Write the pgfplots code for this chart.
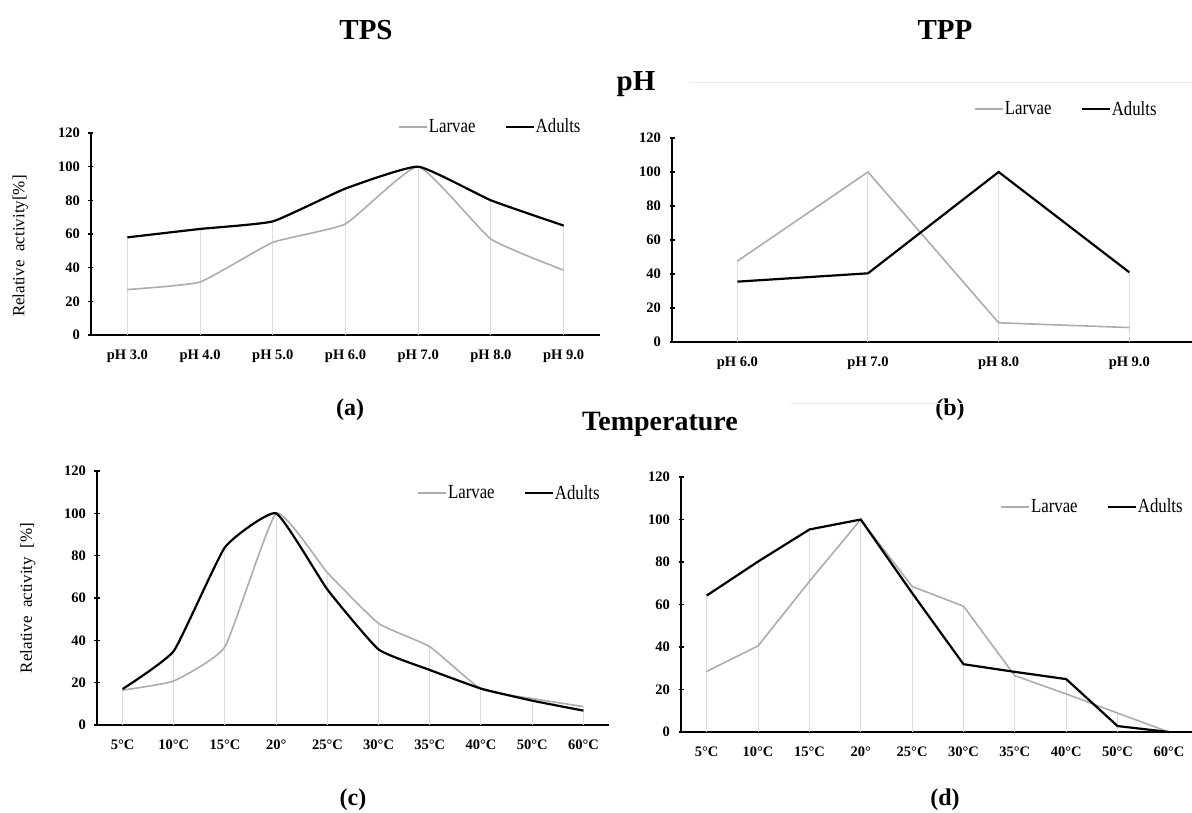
\documentclass[border=0pt]{standalone}
\usepackage{pgfplots}
\usepackage{pgfplotstable}
\pgfplotsset{compat=1.18}
\usepackage{fontspec}
\setmainfont{Liberation Serif}
\newfontfamily\legfont{Liberation Serif}[FakeStretch=0.84]

\definecolor{larv}{RGB}{172,172,172}
\definecolor{drop}{RGB}{220,220,220}

\pgfplotsset{
  actstyle/.style={
    scale only axis,
    axis x line=bottom, axis y line=left,
    axis line style={-, line width=1.6pt, black},
    ymin=0, ymax=120, ytick={0,20,...,120},
    xtick=data,
    major tick length=5pt,
    xtick style={draw=none},
    ytick style={line width=1.2pt, black},
    tick align=center,
    /pgf/number format/assume math mode=true,
    ticklabel style={font=\bfseries\fontsize{14.5}{14.5}\selectfont},
    xticklabel style={yshift=-9pt},
    yticklabel style={xshift=-5pt},
    ylabel style={font=\fontsize{17}{17}\selectfont},
    legend style={draw=none, fill=none, font=\legfont\fontsize{20}{20}\selectfont,
      legend columns=2, nodes={inner xsep=1pt},
      /tikz/every even column/.append style={column sep=28pt}},
    legend image code/.code={\draw[##1] (0pt,0pt) -- (28pt,0pt);},
    clip=false,
  },
  larvae/.style={larv, line width=1.6pt, smooth, tension=0.25},
  adults/.style={black, line width=2.2pt, smooth, tension=0.25},
  droplines/.style={ycomb, drop, line width=1pt, forget plot},
}

% pH, TPS
\pgfplotstableread{
x L A
0 27 58
1 31.5 63
2 55 67.5
3 66 87
4 100 100
5 57 80
6 38.5 65
}\tpsph
% pH, TPP
\pgfplotstableread{
x L A
0 47.6 35.5
1 100 40.4
2 11.3 100
3 8.5 41
}\tppph
% temperature, TPS
\pgfplotstableread{
x L A
0 16.5 17
1 20.8 35
2 37 84
3 100 100
4 72 64
5 48 35.7
6 37 26
7 17 17.2
8 12.5 11.5
9 8.7 6.8
}\tpstemp
% temperature, TPP
\pgfplotstableread{
x L A
0 28.5 64.2
1 40.5 80.2
2 70.9 95.3
3 100 100
4 68.5 65.4
5 59.2 31.9
6 26.5 28.3
7 17.9 24.9
8 8.9 2.8
9 0 0
}\tpptemp

\begin{document}
\begin{tikzpicture}
\useasboundingbox (0,0) rectangle (1192pt,812pt);

\node[font=\bfseries\fontsize{29}{29}\selectfont] at (366pt,782pt) {TPS};
\node[font=\bfseries\fontsize{29}{29}\selectfont] at (945pt,782pt) {TPP};
\node[font=\bfseries\fontsize{29}{29}\selectfont] at (636pt,728pt) {pH};
\node[font=\bfseries\fontsize{28}{28}\selectfont] at (660pt,388pt) {Temperature};
\node[font=\bfseries\fontsize{24}{24}\selectfont] at (350pt,402pt) {(a)};
\node[font=\bfseries\fontsize{24}{24}\selectfont] at (950pt,402pt) {(b)};
\node[font=\bfseries\fontsize{24}{24}\selectfont] at (353pt,12pt) {(c)};
\node[font=\bfseries\fontsize{24}{24}\selectfont] at (945pt,12pt) {(d)};
\draw[gray!15, line width=0.8pt] (690pt,730pt) -- (1192pt,730pt);
\draw[gray!15, line width=0.8pt] (790pt,409pt) -- (965pt,409pt);

% (a)
\begin{axis}[actstyle, at={(91pt,477pt)}, anchor=south west,
  width=509pt, height=202pt, xmin=-0.5, xmax=6.5,
  xticklabels={pH 3.0,pH 4.0,pH 5.0,pH 6.0,pH 7.0,pH 8.0,pH 9.0},
  ylabel={Relative\ \ activity[\%]},
  ylabel style={at={(axis description cs:-0.139,0.44)}, anchor=center},
  legend style={at={(0.97,1.09)}, anchor=north east}]
\addplot[droplines] table[x=x,y=L] {\tpsph};
\addplot[droplines] table[x=x,y=A] {\tpsph};
\addplot[larvae] table[x=x,y=L] {\tpsph};
\addplot[adults] table[x=x,y=A] {\tpsph};
\legend{Larvae,Adults}
\end{axis}

% (b)
\begin{axis}[actstyle, at={(672pt,470pt)}, anchor=south west,
  width=520pt, height=204pt, xmin=-0.5, xmax=3.48,
  xticklabels={pH 6.0,pH 7.0,pH 8.0,pH 9.0},
  legend style={at={(0.94,1.2)}, anchor=north east}]
\addplot[droplines] table[x=x,y=L] {\tppph};
\addplot[droplines] table[x=x,y=A] {\tppph};
\addplot[larvae, sharp plot] table[x=x,y=L] {\tppph};
\addplot[adults, sharp plot] table[x=x,y=A] {\tppph};
\legend{Larvae,Adults}
\end{axis}

% (c)
\begin{axis}[actstyle, at={(97pt,87pt)}, anchor=south west,
  width=512pt, height=254pt, xmin=-0.5, xmax=9.5,
  xticklabels={5°C,10°C,15°C,20°,25°C,30°C,35°C,40°C,50°C,60°C},
  ylabel={Relative\ \ activity\ \ [\%]},
  ylabel style={at={(axis description cs:-0.135,0.5)}, anchor=center},
  legend style={at={(0.99,0.96)}, anchor=north east}]
\addplot[droplines] table[x=x,y=L] {\tpstemp};
\addplot[droplines] table[x=x,y=A] {\tpstemp};
\addplot[larvae] table[x=x,y=L] {\tpstemp};
\addplot[adults] table[x=x,y=A] {\tpstemp};
\legend{Larvae,Adults}
\end{axis}

% (d)
\begin{axis}[actstyle, at={(681pt,80pt)}, anchor=south west,
  width=511pt, height=255pt, xmin=-0.5, xmax=9.45,
  xticklabels={5°C,10°C,15°C,20°,25°C,30°C,35°C,40°C,50°C,60°C},
  legend style={at={(0.99,0.93)}, anchor=north east}]
\addplot[droplines] table[x=x,y=L] {\tpptemp};
\addplot[droplines] table[x=x,y=A] {\tpptemp};
\addplot[larvae, sharp plot] table[x=x,y=L] {\tpptemp};
\addplot[adults, sharp plot] table[x=x,y=A] {\tpptemp};
\legend{Larvae,Adults}
\end{axis}
\end{tikzpicture}
\end{document}
